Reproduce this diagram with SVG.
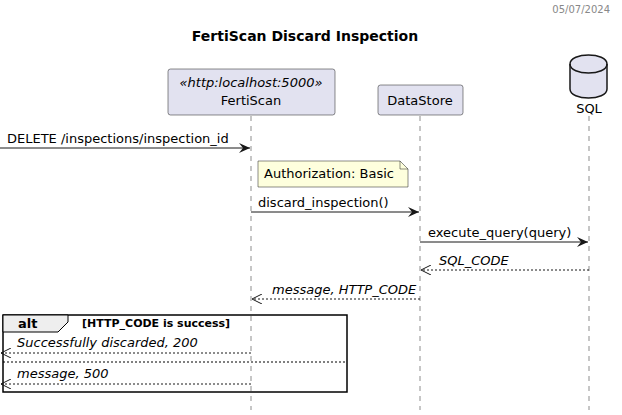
<svg xmlns="http://www.w3.org/2000/svg" width="622" height="415" viewBox="0 0 622 415">
<defs>
<style>
text{font-family:"DejaVu Sans","Liberation Sans",sans-serif;fill:#000;}
.msg{font-size:13px;}
.it{font-size:13px;font-style:italic;}
.life{stroke:#181818;stroke-width:0.5;stroke-dasharray:5,5;fill:none;}
.part{fill:#E2E2F0;stroke:#181818;stroke-width:0.5;}
.sync{stroke:#181818;stroke-width:1;fill:none;}
.ret{stroke:#181818;stroke-width:1;stroke-dasharray:2,2;fill:none;}
</style>
<marker id="filled" viewBox="0 0 12 10" refX="11" refY="5" markerWidth="12" markerHeight="10" markerUnits="userSpaceOnUse" orient="auto">
<path d="M0,0 L11,5 L0,10 L4,5 Z" fill="#181818"/>
</marker>
<marker id="open" viewBox="0 0 12 10" refX="11" refY="5" markerWidth="12" markerHeight="10" markerUnits="userSpaceOnUse" orient="auto">
<path d="M1,0 L11,5 L1,10" fill="none" stroke="#181818" stroke-width="1"/>
</marker>
</defs>
<rect width="622" height="415" fill="#FFFFFF"/>
<text x="610" y="13" font-size="10" fill="#888888" style="fill:#888888" text-anchor="end">05/07/2024</text>
<text x="305" y="41" font-size="14" font-weight="bold" text-anchor="middle">FertiScan Discard Inspection</text>

<g id="lifelines">
<line class="life" x1="251" y1="116" x2="251" y2="410"/>
<line class="life" x1="420" y1="116" x2="420" y2="410"/>
<line class="life" x1="589" y1="116" x2="589" y2="410"/>
</g>

<g id="FertiScan">
<rect class="part" x="168" y="69" width="167" height="46" rx="2.5"/>
<text x="251" y="87" class="it" text-anchor="middle">«http:localhost:5000»</text>
<text x="251" y="105" class="msg" text-anchor="middle">FertiScan</text>
</g>
<g id="DataStore">
<rect class="part" x="378" y="85" width="85" height="30" rx="2.5"/>
<text x="420" y="105" class="msg" text-anchor="middle">DataStore</text>
</g>
<g id="SQL">
<path class="part" style="stroke-width:1.5" d="M570,64 C570,52 607,52 607,64 L607,89 C607,101 570,101 570,89 Z"/>
<path d="M570,64 C570,76 607,76 607,64" fill="none" stroke="#181818" stroke-width="1.5"/>
<text x="589" y="113" class="msg" text-anchor="middle">SQL</text>
</g>

<g id="note">
<path d="M258,161 L400,161 L408,169 L408,187 L258,187 Z" fill="#FEFFDD" stroke="#181818" stroke-width="0.5"/>
<path d="M400,161 L400,169 L408,169" fill="none" stroke="#181818" stroke-width="0.5"/>
<text x="264" y="178" class="msg">Authorization: Basic</text>
</g>

<g id="alt">
<rect x="3" y="315" width="344" height="77" fill="none" stroke="#000" stroke-width="1.5"/>
<path d="M3,315 L68,315 L68,322 L58,332 L3,332 Z" fill="#EEEEEE" stroke="#000" stroke-width="1"/>
<text x="18" y="328" font-size="13" font-weight="bold">alt</text>
<text x="82" y="327" font-size="11" font-weight="bold">[HTTP_CODE is success]</text>
<line x1="3" y1="362" x2="347" y2="362" stroke="#000" stroke-width="1" stroke-dasharray="2,2"/>
</g>

<g id="connectors">
<line class="sync" x1="0" y1="148" x2="250" y2="148" marker-end="url(#filled)"/>
<text x="7" y="143" class="msg">DELETE /inspections/inspection_id</text>
<line class="sync" x1="251" y1="212" x2="419" y2="212" marker-end="url(#filled)"/>
<text x="258" y="207" class="msg">discard_inspection()</text>
<line class="sync" x1="420" y1="242" x2="588" y2="242" marker-end="url(#filled)"/>
<text x="428" y="237" class="msg">execute_query(query)</text>
<line class="ret" x1="589" y1="270" x2="421" y2="270" marker-end="url(#open)"/>
<text x="439" y="265" class="it">SQL_CODE</text>
<line class="ret" x1="420" y1="299" x2="252" y2="299" marker-end="url(#open)"/>
<text x="272" y="294" class="it">message, HTTP_CODE</text>
<line class="ret" x1="251" y1="353" x2="1" y2="353" marker-end="url(#open)"/>
<text x="17" y="347" class="it">Successfully discarded, 200</text>
<line class="ret" x1="251" y1="384" x2="1" y2="384" marker-end="url(#open)"/>
<text x="17" y="378" class="it">message, 500</text>
</g>
</svg>
